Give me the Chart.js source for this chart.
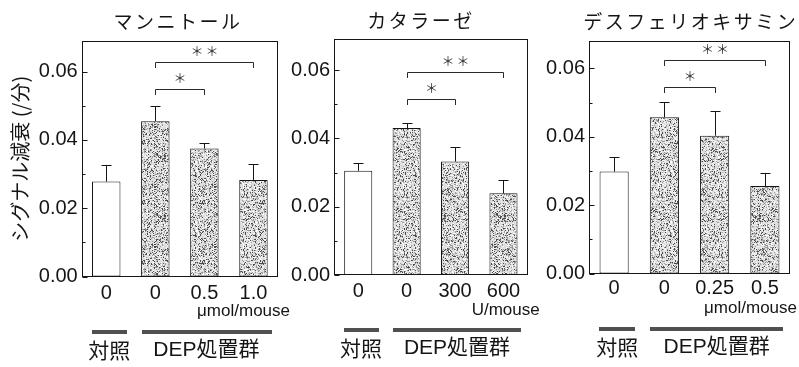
<!DOCTYPE html>
<html><head><meta charset="utf-8">
<script src="https://cdn.jsdelivr.net/npm/chart.js@4.4.1/dist/chart.umd.min.js"></script>
<style>
html,body{margin:0;padding:0;background:#fff;}
#wrap{position:relative;width:799px;height:367px;overflow:hidden;background:#fff;}
canvas{position:absolute;top:0;}
</style></head><body>
<div id="wrap">
<canvas id="c1" width="300" height="367" style="left:0px"></canvas>
<canvas id="c2" width="270" height="367" style="left:280px"></canvas>
<canvas id="c3" width="264" height="367" style="left:535px"></canvas>
</div>
<script>
// ---------- data ----------
const panelTitles = ['マンニトール', 'カタラーゼ', 'デスフェリオキサミン'];
const mannitolDoses = ['0', '0', '0.5', '1.0'];
const catalaseDoses = ['0', '0', '300', '600'];
const desferrioxamineDoses = ['0', '0', '0.25', '0.5'];
const mannitolMeans = [0.0278, 0.0455, 0.0375, 0.0283];
const mannitolSEM = [0.0049, 0.0044, 0.0015, 0.0048];
const catalaseMeans = [0.0305, 0.0430, 0.0332, 0.0239];
const catalaseSEM = [0.0022, 0.0016, 0.0044, 0.0039];
const desferrioxamineMeans = [0.0298, 0.0457, 0.0403, 0.0256];
const desferrioxamineSEM = [0.0042, 0.0046, 0.0073, 0.0037];
const doseUnits = ['μmol/mouse', 'U/mouse', 'μmol/mouse'];
const groupNames = ['対照', 'DEP処置群'];
const yAxisTitle = 'シグナル減衰 (/分)';
const yMajorStep = 0.02;
const yMinorStep = 0.01;
const yAxisMax = [0.069, 0.069, 0.068];
const mannitolSig = [{from: 1, to: 2, level: 0.0549, stars: 1}, {from: 1, to: 3, level: 0.0629, stars: 2}];
const catalaseSig = [{from: 1, to: 2, level: 0.0515, stars: 1}, {from: 1, to: 3, level: 0.0595, stars: 2}];
const desferrioxamineSig = [{from: 1, to: 2, level: 0.0545, stars: 1}, {from: 1, to: 3, level: 0.0623, stars: 2}];

// ---------- layout / style ----------
const H = 367, XH = 40;
const NUM_FONT = "'Liberation Sans', Arial, sans-serif";
const JP_FONT = "'Noto Sans CJK JP', sans-serif";
const INK = '#151515';

const panels = [
  {id: 'c1', title: panelTitles[0], doses: mannitolDoses, means: mannitolMeans, sem: mannitolSEM, sig: mannitolSig,
   unit: doseUnits[0], yMax: yAxisMax[0], yTitle: true,
   L: {yWidth: 81.7, top: 41, bottom: 276.5, right: 22, titleDx: -3, unitDx: 12, tickPadX: 5}},
  {id: 'c2', title: panelTitles[1], doses: catalaseDoses, means: catalaseMeans, sem: catalaseSEM, sig: catalaseSig,
   unit: doseUnits[1], yMax: yAxisMax[1], yTitle: false,
   L: {yWidth: 54, top: 39.3, bottom: 275, right: 22.3, titleDx: -11, unitDx: 12, tickPadX: 4}},
  {id: 'c3', title: panelTitles[2], doses: desferrioxamineDoses, means: desferrioxamineMeans, sem: desferrioxamineSEM, sig: desferrioxamineSig,
   unit: doseUnits[2], yMax: yAxisMax[2], yTitle: false,
   L: {yWidth: 54, top: 41, bottom: 273.5, right: 9, titleDx: 0, unitDx: 7, tickPadX: 3}}
];

function makeStipple(ctx) {
  const n = 60;
  const c = document.createElement('canvas'); c.width = n; c.height = n;
  const g = c.getContext('2d');
  g.fillStyle = '#dedede'; g.fillRect(0, 0, n, n);
  let s = 987654321;
  const next = () => { s = (Math.imul(s, 1103515245) + 12345) >>> 0; return (s >>> 8) / 16777216; };
  for (let yy = 0; yy < n; yy++) {
    for (let xx = 0; xx < n; xx++) {
      const r = next();
      if (r < 0.13) { g.fillStyle = '#4a4a4a'; g.fillRect(xx, yy, 1, 1); }
      else if (r < 0.30) { g.fillStyle = '#9a9a9a'; g.fillRect(xx, yy, 1, 1); }
      else if (r > 0.82) { g.fillStyle = '#fafafa'; g.fillRect(xx, yy, 1, 1); }
    }
  }
  return ctx.createPattern(c, 'repeat');
}

function line(ctx, x1, y1, x2, y2) {
  ctx.beginPath(); ctx.moveTo(x1, y1); ctx.lineTo(x2, y2); ctx.stroke();
}

function decorPlugin(p) {
  return {
    id: 'decor_' + p.id,
    afterDatasetsDraw(chart) {
      const {ctx, chartArea: a, scales: {x, y}} = chart;
      ctx.save();
      ctx.strokeStyle = INK; ctx.lineWidth = 1;
      // frame
      const L = Math.round(a.left) + 0.5, T = Math.round(a.top) + 0.5;
      const R = Math.round(a.right) - 0.5, B = Math.round(a.bottom) - 0.5;
      ctx.strokeRect(L, T, R - L, B - T);
      // inward ticks (major + minor)
      for (let k = 0; k * yMinorStep <= p.yMax + 1e-9; k++) {
        const py = Math.round(y.getPixelForValue(k * yMinorStep)) + 0.5;
        const len = (k % 2 === 0) ? 5 : 3;
        line(ctx, L, py, L + len, py);
      }
      // error bars (upper)
      const meta = chart.getDatasetMeta(0);
      meta.data.forEach((bar, i) => {
        const bx = Math.round(bar.x) + 0.5;
        const yTop = y.getPixelForValue(p.means[i]);
        const yErr = Math.round(y.getPixelForValue(p.means[i] + p.sem[i])) + 0.5;
        line(ctx, bx, yTop, bx, yErr);
        line(ctx, bx - 5, yErr, bx + 5, yErr);
      });
      // significance brackets
      ctx.strokeStyle = '#2a2a2a';
      p.sig.forEach(sg => {
        const x1 = Math.round(x.getPixelForValue(sg.from)) + 0.5;
        const x2 = Math.round(x.getPixelForValue(sg.to)) + 0.5;
        const yy = Math.round(y.getPixelForValue(sg.level)) + 0.5;
        ctx.beginPath();
        ctx.moveTo(x1, yy + 5.5); ctx.lineTo(x1, yy); ctx.lineTo(x2, yy); ctx.lineTo(x2, yy + 5.5);
        ctx.stroke();
        ctx.fillStyle = '#333';
        ctx.font = '13px ' + JP_FONT;
        ctx.textAlign = 'center'; ctx.textBaseline = 'middle';
        const cx = (x1 + x2) / 2;
        for (let j = 0; j < sg.stars; j++) {
          ctx.fillText('＊', cx + (j - (sg.stars - 1) / 2) * 15, yy - 11);
        }
      });
      // panel title
      ctx.fillStyle = INK;
      ctx.font = '19px ' + JP_FONT;
      ctx.textAlign = 'center'; ctx.textBaseline = 'middle';
      try { ctx.letterSpacing = '2.5px'; } catch (e) {}
      ctx.fillText(p.title, (a.left + a.right) / 2 + p.L.titleDx + 1.25, a.top - 19);
      try { ctx.letterSpacing = '0px'; } catch (e) {}
      // dose unit
      ctx.font = '17px ' + NUM_FONT;
      ctx.textAlign = 'right';
      ctx.fillText(p.unit, a.right + p.L.unitDx, a.bottom + 35);
      // group bars and names
      const c0 = x.getPixelForValue(0), c1 = x.getPixelForValue(1), c3 = x.getPixelForValue(3);
      const cw = c1 - c0;
      const ctrlL = c0 - 0.30 * cw, ctrlR = c0 + 0.42 * cw;
      const depL = c1 - 0.28 * cw, depR = c3 + 0.36 * cw;
      const gy = Math.round(a.bottom + 53);
      ctx.fillStyle = '#505050';
      ctx.fillRect(Math.round(ctrlL), gy, Math.round(ctrlR - ctrlL), 4);
      ctx.fillRect(Math.round(depL), gy, Math.round(depR - depL), 4);
      ctx.fillStyle = INK;
      ctx.textAlign = 'center';
      ctx.font = '21px ' + JP_FONT;
      ctx.fillText(groupNames[0], (ctrlL + ctrlR) / 2, a.bottom + 73.3);
      ctx.font = "21px 'Liberation Sans', 'Noto Sans CJK JP', sans-serif";
      ctx.fillText(groupNames[1], (depL + depR) / 2, a.bottom + 73.3);
      ctx.restore();
    }
  };
}

panels.forEach(p => {
  const canvas = document.getElementById(p.id);
  const ctx = canvas.getContext('2d');
  const stipple = makeStipple(ctx);
  new Chart(ctx, {
    type: 'bar',
    data: {
      labels: p.doses,
      datasets: [{
        data: p.means,
        backgroundColor: ['#ffffff', stipple, stipple, stipple],
        borderColor: INK,
        borderWidth: 1,
        borderSkipped: false,
        categoryPercentage: 1,
        barPercentage: 0.58
      }]
    },
    options: {
      responsive: false,
      animation: false,
      devicePixelRatio: 1,
      events: [],
      layout: {padding: {left: 0, right: p.L.right, top: p.L.top, bottom: H - p.L.bottom - XH}},
      plugins: {legend: {display: false}, tooltip: {enabled: false}, title: {display: false}},
      scales: {
        x: {
          type: 'category', offset: true,
          grid: {display: false, drawTicks: false},
          border: {display: false},
          ticks: {font: {family: NUM_FONT, size: 20}, color: INK, padding: p.L.tickPadX, maxRotation: 0, autoSkip: false},
          afterFit(s) { s.height = XH; }
        },
        y: {
          min: 0, max: p.yMax,
          grid: {display: false, drawTicks: false},
          border: {display: false},
          ticks: {stepSize: yMajorStep, includeBounds: false, font: {family: NUM_FONT, size: 20}, color: INK, padding: 4,
                  callback: v => Number(v).toFixed(2)},
          title: {display: p.yTitle, text: yAxisTitle, font: {family: JP_FONT, size: 20}, color: INK, padding: {top: 8, bottom: 0}},
          afterFit(s) { s.width = p.L.yWidth; }
        }
      }
    },
    plugins: [decorPlugin(p)]
  });
});
</script>
</body></html>
